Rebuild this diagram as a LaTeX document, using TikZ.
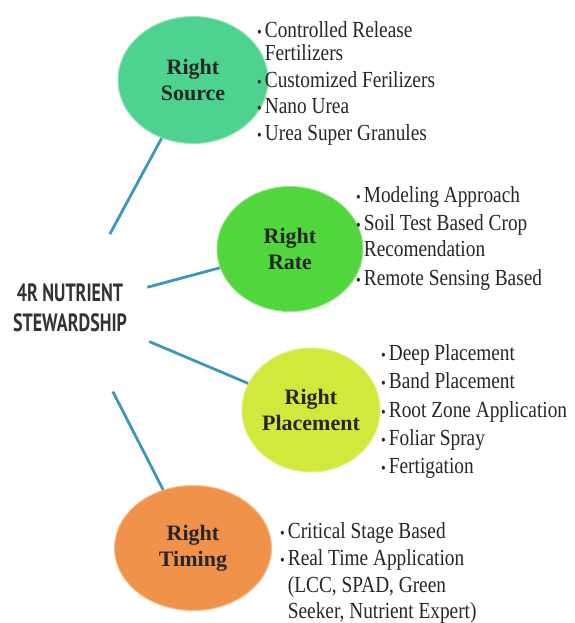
\documentclass[tikz,border=0pt]{standalone}
\usepackage{fontspec}
\setmainfont{Liberation Serif}
\newfontfamily\titlefont[FakeStretch=0.72]{PT Sans}
\newfontfamily\listfont[FakeStretch=0.84]{Liberation Serif}
\usepackage{xcolor}
\definecolor{srccol}{RGB}{ 78, 210, 143}
\definecolor{ratecol}{RGB}{ 82, 214,  62}
\definecolor{placecol}{RGB}{211, 232,  60}
\definecolor{timecol}{RGB}{240, 146,  74}
\definecolor{spokecol}{RGB}{ 60, 152, 182}
\usepackage{tikz}
\usetikzlibrary{shapes.geometric}

\newcommand{\bul}{{\fontsize{16}{16}\selectfont\textbullet}}

\begin{document}
\begin{tikzpicture}[x=1pt, y=-1pt]

  \tikzstyle{rbubble} = [
    ellipse, inner sep=0pt,
    align=center, text=black!85,
    font=\fontsize{22}{26}\selectfont\bfseries
  ]
  \tikzstyle{itemlist} = [
    anchor=base west, inner sep=0pt,
    text=black!85,
    font=\listfont\fontsize{23}{22}\selectfont
  ]
  \tikzstyle{spoke} = [line width=2.8pt, color=spokecol]

  \useasboundingbox (0,0) rectangle (574,623);

  \node[align=center, text=black!80,
        font=\titlefont\bfseries\fontsize{25}{30}\selectfont] (title) at (70,308)
    {4R NUTRIENT\\STEWARDSHIP};

  \node[rbubble, fill=srccol, draw=srccol!60!white, line width=1pt,
        minimum width=150pt, minimum height=127pt] (src) at (193,80)
    {Right\\Source};
  \node[rbubble, fill=ratecol, draw=ratecol!60!white, line width=1pt,
        minimum width=146pt, minimum height=125pt] (rate) at (290,249)
    {Right\\Rate};
  \node[rbubble, fill=placecol, draw=placecol!60!white, line width=1pt,
        minimum width=138pt, minimum height=124pt] (place) at (311,410)
    {Right\\Placement};
  \node[rbubble, fill=timecol, draw=timecol!60!white, line width=1pt,
        minimum width=157pt, minimum height=125pt] (time) at (193,548)
    {Right\\Timing};

  \node[itemlist] (srclist) at (257,38)
    {\begin{tabular}[t]{@{}l@{\hspace{3pt}}l@{}}
     \bul & Controlled Release\\
          & Fertilizers\\[4pt]
     \bul & Customized Ferilizers\\[4pt]
     \bul & Nano Urea\\[5pt]
     \bul & Urea Super Granules
     \end{tabular}};

  \node[itemlist] (ratelist) at (356,202)
    {\begin{tabular}[t]{@{}l@{\hspace{3pt}}l@{}}
     \bul & Modeling Approach\\[6pt]
     \bul & Soil Test Based Crop\\[3pt]
          & Recomendation\\[7pt]
     \bul & Remote Sensing Based
     \end{tabular}};

  \node[itemlist] (placelist) at (381,360)
    {\begin{tabular}[t]{@{}l@{\hspace{3pt}}l@{}}
     \bul & Deep Placement\\[6pt]
     \bul & Band Placement\\[6pt]
     \bul & Root Zone Application\\[6pt]
     \bul & Foliar Spray\\[6pt]
     \bul & Fertigation
     \end{tabular}};

  \node[itemlist] (timelist) at (280,538)
    {\begin{tabular}[t]{@{}l@{\hspace{3pt}}l@{}}
     \bul & Critical Stage Based\\[5pt]
     \bul & Real Time Application\\[4pt]
          & (LCC, SPAD, Green\\[4pt]
          & Seeker, Nutrient Expert)
     \end{tabular}};

  \draw[spoke, shorten <=84pt] (title.center) -- (src);
  \draw[spoke, shorten <=80pt] (title.center) -- (rate);
  \draw[spoke, shorten <=86pt] (title.center) -- (place);
  \draw[spoke, shorten <=94pt] (title.center) -- (time);

\end{tikzpicture}
\end{document}
